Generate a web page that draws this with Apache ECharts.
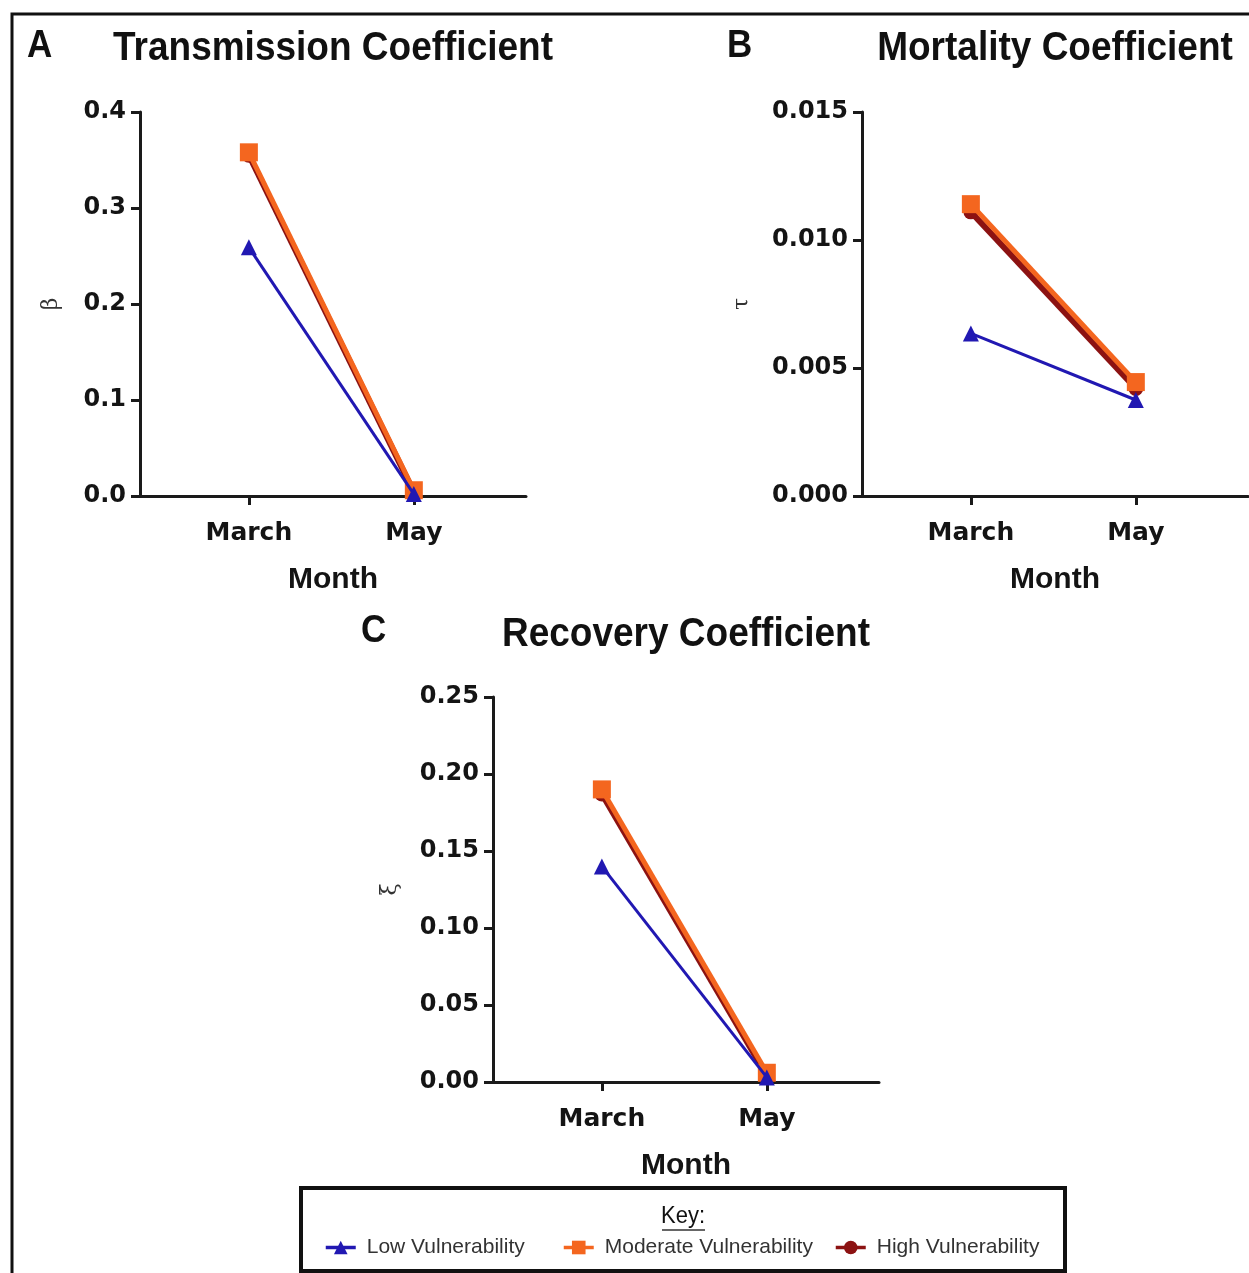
<!DOCTYPE html>
<html>
<head>
<meta charset="utf-8">
<script src="https://cdn.jsdelivr.net/npm/echarts@6/dist/echarts.min.js"></script>
<style>
  html, body { margin: 0; padding: 0; background: #fff; }
  #chart { width: 1249px; height: 1273px; }
</style>
</head>
<body>
<div id="chart"></div>
<script>
// Months on the x axis (positions 1 and 2)
const months = ['March', 'May'];
const seriesNames = ['Low Vulnerability', 'Moderate Vulnerability', 'High Vulnerability'];

// Panel A: transmission coefficient (beta)
const betaLow = [0.259, 0.002];
const betaModerate = [0.358, 0.006];
const betaHigh = [0.355, 0.004];

// Panel B: mortality coefficient (tau)
const tauLow = [0.00635, 0.00375];
const tauModerate = [0.0114, 0.00445];
const tauHigh = [0.0111, 0.0042];

// Panel C: recovery coefficient (xi)
const xiLow = [0.140, 0.003];
const xiModerate = [0.190, 0.006];
const xiHigh = [0.187, 0.004];

// Y tick settings per panel
const yTicksA = { min: 0, max: 0.4, interval: 0.1, digits: 1 };
const yTicksB = { min: 0, max: 0.015, interval: 0.005, digits: 3 };
const yTicksC = { min: 0, max: 0.25, interval: 0.05, digits: 2 };

const colors = { low: '#2118b2', moderate: '#f4661f', high: '#8c1212' };
const axisColor = '#1a1a1a';
const labelColor = '#141414';

const panels = [
  { grid: { left: 140, top: 112, width: 386, height: 384 }, y: yTicksA, name: 'β', nameGap: 78,
    low: betaLow, moderate: betaModerate, high: betaHigh },
  { grid: { left: 862, top: 112, width: 386, height: 384 }, y: yTicksB, name: 'τ', nameGap: 109,
    low: tauLow, moderate: tauModerate, high: tauHigh },
  { grid: { left: 493, top: 697, width: 386, height: 385 }, y: yTicksC, name: 'ξ', nameGap: 92,
    low: xiLow, moderate: xiModerate, high: xiHigh }
];

const toPoints = vals => vals.map((v, i) => [i + 1, v]);

const grids = [], xAxes = [], yAxes = [], series = [];
panels.forEach((p, i) => {
  grids.push(p.grid);
  xAxes.push({
    type: 'value', gridIndex: i, min: 0.34, max: 2.68,
    splitLine: { show: false },
    axisLine: { show: true, onZero: false, lineStyle: { color: axisColor, width: 3 } },
    axisTick: { show: true, customValues: [1, 2], length: 9, lineStyle: { color: axisColor, width: 3 } },
    axisLabel: {
      customValues: [1, 2], margin: 25,
      formatter: v => months[Math.round(v) - 1] || '',
      color: labelColor, fontFamily: '"DejaVu Sans", sans-serif', fontWeight: 'bold', fontSize: 25
    },
    name: 'Month', nameLocation: 'middle', nameGap: 69,
    nameTextStyle: { color: labelColor, fontFamily: '"Liberation Sans", Arial, sans-serif', fontWeight: 'bold', fontSize: 30 }
  });
  yAxes.push({
    type: 'value', gridIndex: i, min: p.y.min, max: p.y.max, interval: p.y.interval,
    splitLine: { show: false },
    axisLine: { show: true, onZero: false, lineStyle: { color: axisColor, width: 3 } },
    axisTick: { show: true, length: 9, lineStyle: { color: axisColor, width: 3 } },
    axisLabel: {
      margin: 14, formatter: v => v.toFixed(p.y.digits),
      color: labelColor, fontFamily: '"DejaVu Sans", sans-serif', fontWeight: 'bold', fontSize: 24
    },
    name: p.name, nameLocation: 'middle', nameRotate: 90, nameGap: p.nameGap,
    nameTextStyle: { color: '#333', fontFamily: '"DejaVu Serif", serif', fontSize: 22 }
  });
  // High underneath, Moderate above it, Low on top
  series.push({
    name: seriesNames[2], type: 'line', xAxisIndex: i, yAxisIndex: i, z: 2,
    data: toPoints(p.high), color: colors.high,
    symbol: 'circle', symbolSize: 15, lineStyle: { width: 6, color: colors.high },
    itemStyle: { color: colors.high }
  });
  series.push({
    name: seriesNames[1], type: 'line', xAxisIndex: i, yAxisIndex: i, z: 3,
    data: toPoints(p.moderate), color: colors.moderate,
    symbol: 'rect', symbolSize: 18, lineStyle: { width: 5, color: colors.moderate },
    itemStyle: { color: colors.moderate }
  });
  series.push({
    name: seriesNames[0], type: 'line', xAxisIndex: i, yAxisIndex: i, z: 4,
    data: toPoints(p.low), color: colors.low,
    symbol: 'triangle', symbolSize: 16, lineStyle: { width: 3, color: colors.low },
    itemStyle: { color: colors.low }
  });
});

const legendFont = { color: '#333', fontFamily: '"Liberation Sans Narrow", "Arial Narrow", "Liberation Sans", sans-serif', fontSize: 21, padding: [0, 0, 0, 6] };
const legendBase = {
  top: 1232, itemWidth: 30, itemHeight: 17, textStyle: legendFont, selectedMode: false,
  lineStyle: { width: 3.5 }
};

const titleFont = 'bold 37px "Liberation Sans", Arial, sans-serif';
const letterFont = 'bold 35px "Liberation Sans", Arial, sans-serif';
const textEl = (text, x, y, font, align, sy) => ({
  type: 'text', x, y, silent: true, scaleY: sy || 1,
  style: { text, font, fill: '#111', textAlign: align || 'center', textVerticalAlign: 'middle' }
});

const option = {
  animation: false,
  backgroundColor: '#fff',
  grid: grids,
  xAxis: xAxes,
  yAxis: yAxes,
  series,
  legend: [
    Object.assign({ data: [seriesNames[0]], left: 319 }, legendBase),
    Object.assign({ data: [seriesNames[1]], left: 557 }, legendBase),
    Object.assign({ data: [seriesNames[2]], left: 829 }, legendBase)
  ],
  graphic: [
    { type: 'rect', silent: true, shape: { x: 12, y: 14, width: 1400, height: 1400 },
      style: { fill: 'none', stroke: '#111', lineWidth: 3 } },
    textEl('A', 27, 46, letterFont, 'left', 1.1),
    textEl('Transmission Coefficient', 333, 49, titleFont, 'center', 1.1),
    textEl('B', 727, 46, letterFont, 'left', 1.1),
    textEl('Mortality Coefficient', 1055, 49, titleFont, 'center', 1.1),
    textEl('C', 361, 631, letterFont, 'left', 1.1),
    textEl('Recovery Coefficient', 686, 635, titleFont, 'center', 1.1),
    { type: 'rect', silent: true, shape: { x: 301, y: 1188, width: 764, height: 83 },
      style: { fill: 'none', stroke: '#111', lineWidth: 4 } },
    textEl('Key:', 683, 1216, '22px "Liberation Sans Narrow", "Arial Narrow", "Liberation Sans", sans-serif', 'center', 1.1),
    { type: 'line', silent: true, shape: { x1: 662, y1: 1230, x2: 705, y2: 1230 },
      style: { stroke: '#333', lineWidth: 1.5 } }
  ]
};

echarts.init(document.getElementById('chart'), null, { renderer: 'canvas' }).setOption(option);
</script>
</body>
</html>
